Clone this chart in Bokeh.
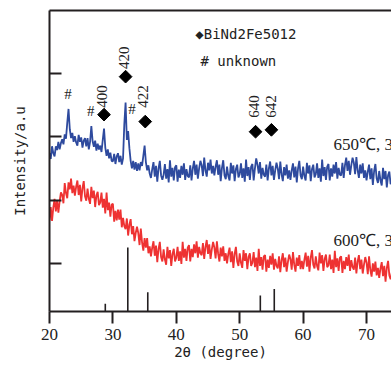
import numpy as np
from math import pi
from bokeh.plotting import figure
from bokeh.models import Range1d, LinearAxis, FixedTicker, CustomJSTickFormatter
from bokeh.core.properties import value
from bokeh.embed import file_html
from bokeh.resources import INLINE

# ---- data ----
two_theta = np.round(np.arange(20.0, 74.001, 0.2), 1)

int_650 = [
    1.74, 1.65, 1.85, 1.74, 1.69, 1.85, 1.79, 1.92, 1.80, 1.90,
    1.96, 1.88, 2.04, 1.97, 2.22, 2.44, 2.12, 1.98, 2.06, 1.92,
    2.01, 1.91, 1.86, 2.03, 1.92, 1.99, 1.83, 1.94, 1.98, 1.85,
    1.98, 1.80, 1.92, 2.17, 1.93, 1.84, 1.94, 1.78, 1.89, 1.80,
    1.86, 1.76, 1.95, 2.13, 1.83, 1.70, 1.80, 1.66, 1.75, 1.62,
    1.61, 1.73, 1.57, 1.69, 1.74, 1.60, 1.70, 1.56, 1.66, 2.20,
    2.54, 1.95, 2.09, 1.82, 1.62, 1.50, 1.62, 1.48, 1.60, 1.46,
    1.58, 1.47, 1.60, 1.54, 1.70, 1.86, 1.60, 1.47, 1.55, 1.42,
    1.35, 1.49, 1.60, 1.37, 1.54, 1.29, 1.50, 1.62, 1.39, 1.32,
    1.40, 1.57, 1.34, 1.49, 1.28, 1.63, 1.37, 1.51, 1.31, 1.52,
    1.55, 1.29, 1.48, 1.35, 1.54, 1.40, 1.58, 1.32, 1.49, 1.38,
    1.36, 1.55, 1.31, 1.50, 1.62, 1.40, 1.56, 1.34, 1.50, 1.62,
    1.55, 1.38, 1.67, 1.47, 1.37, 1.59, 1.47, 1.64, 1.42, 1.54,
    1.39, 1.53, 1.63, 1.40, 1.56, 1.30, 1.51, 1.63, 1.39, 1.33,
    1.53, 1.38, 1.31, 1.59, 1.42, 1.55, 1.30, 1.49, 1.56, 1.36,
    1.41, 1.58, 1.35, 1.50, 1.29, 1.64, 1.38, 1.52, 1.32, 1.53,
    1.57, 1.31, 1.50, 1.66, 1.56, 1.42, 1.60, 1.34, 1.51, 1.40,
    1.37, 1.56, 1.31, 1.50, 1.61, 1.39, 1.54, 1.32, 1.47, 1.59,
    1.50, 1.33, 1.61, 1.41, 1.30, 1.52, 1.39, 1.56, 1.34, 1.47,
    1.32, 1.47, 1.58, 1.36, 1.53, 1.28, 1.50, 1.62, 1.39, 1.33,
    1.53, 1.38, 1.31, 1.59, 1.42, 1.55, 1.30, 1.49, 1.56, 1.36,
    1.41, 1.58, 1.35, 1.50, 1.29, 1.64, 1.38, 1.52, 1.32, 1.53,
    1.57, 1.31, 1.50, 1.37, 1.56, 1.42, 1.60, 1.34, 1.51, 1.40,
    1.39, 1.59, 1.35, 1.55, 1.67, 1.46, 1.62, 1.40, 1.55, 1.67,
    1.59, 1.41, 1.68, 1.47, 1.35, 1.56, 1.42, 1.58, 1.35, 1.47,
    1.31, 1.45, 1.56, 1.33, 1.50, 1.24, 1.46, 1.57, 1.34, 1.27,
    1.46, 1.31, 1.23, 1.51, 1.33, 1.46, 1.20, 1.39, 1.45, 1.25,
    1.34,
]

int_600 = [
    0.68, 0.89, 0.67, 0.88, 1.02, 0.82, 1.00, 0.80, 0.98, 1.12,
    1.08, 0.95, 1.27, 1.11, 1.03, 1.28, 1.17, 1.34, 1.11, 1.23,
    1.07, 1.21, 1.31, 1.08, 1.24, 0.98, 1.19, 1.30, 1.06, 0.99,
    1.18, 1.02, 0.94, 1.21, 1.03, 1.15, 0.89, 1.07, 1.13, 0.92,
    0.96, 1.12, 0.88, 1.02, 0.79, 1.12, 0.84, 0.96, 0.74, 0.93,
    0.94, 0.66, 0.83, 0.68, 0.85, 0.69, 0.85, 0.57, 0.72, 0.59,
    0.54, 0.71, 0.44, 0.61, 0.70, 0.46, 0.59, 0.35, 0.48, 0.58,
    0.48, 0.29, 0.55, 0.33, 0.20, 0.40, 0.25, 0.40, 0.16, 0.27,
    0.11, 0.25, 0.35, 0.12, 0.28, 0.02, 0.23, 0.34, 0.10, 0.03,
    0.22, 0.06, -0.02, 0.26, 0.08, 0.21, -0.04, 0.15, 0.23, 0.03,
    0.09, 0.26, 0.04, 0.19, -0.01, 0.34, 0.09, 0.23, 0.04, 0.25,
    0.29, 0.03, 0.23, 0.10, 0.30, 0.16, 0.35, 0.09, 0.26, 0.16,
    0.13, 0.32, 0.07, 0.26, 0.37, 0.15, 0.30, 0.07, 0.22, 0.34,
    0.25, 0.08, 0.35, 0.15, 0.03, 0.25, 0.11, 0.27, 0.04, 0.16,
    0.00, 0.15, 0.25, 0.02, 0.19, -0.07, 0.15, 0.26, 0.03, -0.04,
    0.16, 0.01, -0.07, 0.21, 0.04, 0.16, -0.09, 0.10, 0.16, -0.04,
    0.01, 0.18, -0.06, 0.09, -0.12, 0.23, -0.04, 0.10, -0.10, 0.11,
    0.13, -0.13, 0.06, -0.07, 0.12, -0.02, 0.16, -0.10, 0.07, -0.04,
    -0.08, 0.11, -0.14, 0.05, 0.16, -0.06, 0.09, -0.13, 0.02, 0.14,
    0.07, -0.10, 0.18, -0.02, -0.13, 0.09, -0.04, 0.13, -0.09, 0.04,
    -0.09, 0.06, 0.17, -0.05, 0.12, -0.13, 0.09, 0.21, -0.02, -0.08,
    0.11, -0.04, -0.11, 0.17, 0.00, 0.13, -0.12, 0.07, 0.14, -0.06,
    -0.03, 0.14, -0.09, 0.06, -0.15, 0.20, -0.06, 0.08, -0.12, 0.09,
    0.11, -0.15, 0.04, -0.09, 0.10, -0.04, 0.14, -0.12, 0.05, -0.06,
    -0.10, 0.09, -0.16, 0.03, 0.13, -0.09, 0.06, -0.16, -0.02, 0.10,
    0.01, -0.17, 0.11, -0.10, -0.21, 0.00, -0.13, 0.03, -0.19, -0.07,
    -0.23, -0.08, 0.02, -0.20, -0.04, -0.29, -0.07, 0.04, -0.19, -0.25,
    -0.14,
]

# reference pattern (BiNd2Fe5O12)
ref_pos = [28.8, 32.35, 35.5, 53.25, 55.45]
ref_int = [12, 100, 30, 25, 35]

# indexed peaks (position, marker height, label)
hkl_pos = [28.6, 32.0, 35.1, 52.5, 55.0]
hkl_y = [2.35, 2.95, 2.24, 2.08, 2.11]
hkl_text_x = [28.3, 31.7, 34.8, 52.3, 55.0]
hkl_text_y = [2.46, 3.07, 2.46, 2.30, 2.30]
hkl_labels = ["400", "420", "422", "640", "642"]

unk_x = [22.9, 26.5, 33.0]
unk_y = [2.68, 2.40, 2.44]
unk_labels = ["#", "#", "#"]

x_ticks = [20, 30, 40, 50, 60, 70]
y_ticks = [0, 1, 2, 3]

BLUE = "#2e4a9e"
RED = "#ee3232"
DARK = "#231f20"
MONO = "DejaVu Sans Mono"
NARROW = "Liberation Sans Narrow"

p = figure(width=391, height=369, output_backend="svg", toolbar_location=None,
           x_range=Range1d(20, 73.94), y_range=Range1d(-0.76, 3.995),
           min_border_left=49, min_border_right=0, min_border_top=10,
           min_border_bottom=58)
p.outline_line_color = None
p.grid.visible = False
p.background_fill_color = "white"
p.border_fill_color = "white"
p.extra_y_ranges = {"ref": Range1d(0, 470)}

# x axis
xa = p.xaxis[0]
xa.ticker = FixedTicker(ticks=x_ticks)
xa.major_tick_in = 0
xa.major_tick_out = 12
xa.minor_tick_line_color = None
xa.axis_line_width = 2
xa.major_tick_line_width = 2
xa.axis_line_color = DARK
xa.major_tick_line_color = DARK
xa.major_label_text_font = NARROW
xa.major_label_text_font_size = "17px"
xa.major_label_text_color = "#222222"
xa.major_label_standoff = 5
xa.axis_label = "2θ (degree)"
xa.axis_label_text_font = MONO
xa.axis_label_text_font_size = "14px"
xa.axis_label_text_font_style = "normal"
xa.axis_label_text_color = "#222222"
xa.axis_label_standoff = 1

# y axis
ya = p.yaxis[0]
ya.ticker = FixedTicker(ticks=y_ticks)
ya.formatter = CustomJSTickFormatter(code="return ''")
ya.major_tick_in = 12
ya.major_tick_out = 0
ya.minor_tick_line_color = None
ya.axis_line_width = 2
ya.major_tick_line_width = 2
ya.axis_line_color = DARK
ya.major_tick_line_color = DARK
ya.major_label_standoff = 0
ya.axis_label = "Intensity/a.u"
ya.axis_label_text_font = MONO
ya.axis_label_text_font_size = "14px"
ya.axis_label_text_font_style = "normal"
ya.axis_label_text_color = "#222222"
ya.axis_label_standoff = 22

# top border
top = LinearAxis(ticker=FixedTicker(ticks=[]), major_tick_in=0, major_tick_out=0,
                 minor_tick_line_color=None, major_label_text_font_size="0px",
                 major_label_standoff=0, axis_line_width=2, axis_line_color=DARK)
p.add_layout(top, "above")

# spectra
p.line(two_theta, int_650, line_color=BLUE, line_width=1.8)
p.line(two_theta, int_600, line_color=RED, line_width=1.8)

# reference sticks
p.segment(x0=ref_pos, y0=[0] * len(ref_pos), x1=ref_pos, y1=ref_int,
          y_range_name="ref", line_color=DARK, line_width=1.6)

# peak markers and labels
p.scatter(hkl_pos, hkl_y, marker="square", angle=pi / 4, size=9,
          fill_color="black", line_color="black")
p.text(hkl_text_x, hkl_text_y, text=hkl_labels, angle=pi / 2,
       text_font=value(NARROW), text_font_size="15px", text_color="#222222",
       text_align="left", text_baseline="middle")
p.text(unk_x, unk_y, text=unk_labels, text_font=value(NARROW),
       text_font_size="15px", text_color="#222222",
       text_align="center", text_baseline="middle")

# legend-like texts
p.text([43.0], [3.627], text=["◆BiNd2Fe5012"], text_font=value(MONO),
       text_font_size="14px", text_color="#222222",
       text_align="left", text_baseline="middle")
p.text([43.8], [3.20], text=["# unknown"], text_font=value(MONO),
       text_font_size="14px", text_color="#222222",
       text_align="left", text_baseline="middle")

# sample conditions
p.text([64.8, 64.8], [1.873, 0.357], text=["650℃, 3h", "600℃, 3h"],
       text_font=value(NARROW), text_font_size="17px", text_color="#222222",
       text_align="left", text_baseline="middle")

open("out.html", "w").write(file_html(p, INLINE))
